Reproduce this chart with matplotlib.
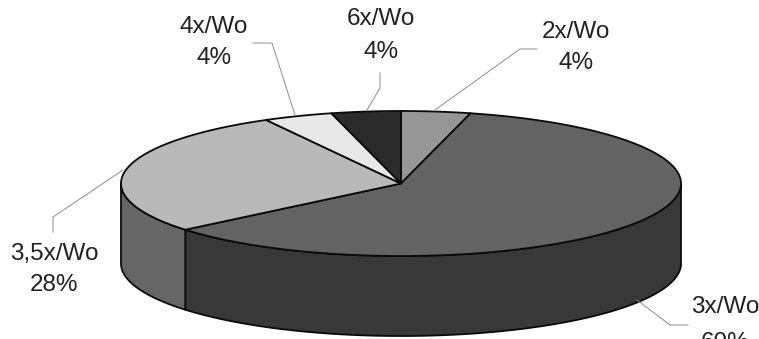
import numpy as np
import matplotlib
matplotlib.use('Agg')
import matplotlib.pyplot as plt

plt.rcParams['font.family'] = ['Liberation Sans', 'DejaVu Sans']

labels = ['2x/Wo', '3x/Wo', '3,5x/Wo', '4x/Wo', '6x/Wo']
values = [4, 60, 28, 4, 4]
top_colors = ['#969696', '#636363', '#b9b9b9', '#e8e8e8', '#2b2b2b']
side_colors = ['#6e6e6e', '#383838', '#666666', '#aaaaaa', '#1c1c1c']

# pie geometry in pixels
cx, cy = 401, 183.5
a, b = 280, 72.5
depth = 80

# label centres and leader lines, one per slice
label_pos = [(576, 32, 63), (725, 307, 343), (54, 254, 285), (214, 27, 58), (381, 19, 52)]
leaders = [
    [(537, 49), (520, 49), (435, 110)],
    [(637, 300), (670, 325), (688, 325)],
    [(53, 232), (53, 217), (123, 170)],
    [(253, 43), (272, 43), (295, 115)],
    [(380, 73), (380, 88), (367, 110)],
]


def rim(t0, t1):
    t = np.radians(np.linspace(t0, t1, 200))
    return cx + a * np.sin(t), cy - b * np.cos(t)


fig = plt.figure(figsize=(7.59, 3.39), dpi=100)
ax = fig.add_axes([0, 0, 1, 1])
ax.set_xlim(0, 759)
ax.set_ylim(339, 0)
ax.axis('off')

edges = np.concatenate([[0], np.cumsum(values)]) / np.sum(values) * 360

# side wall, only the front half can be seen
for i in range(len(values)):
    t0, t1 = max(edges[i], 90), min(edges[i + 1], 270)
    if t0 >= t1:
        continue
    x, y = rim(t0, t1)
    ax.fill(np.r_[x, x[::-1]], np.r_[y, y[::-1] + depth], color=side_colors[i],
            ec='#0a0a0a', lw=1.3, joinstyle='round')

# top face
for i in range(len(values)):
    x, y = rim(edges[i], edges[i + 1])
    ax.fill(np.r_[cx, x], np.r_[cy, y], color=top_colors[i],
            ec='#0a0a0a', lw=1.3, joinstyle='round')

for pts in leaders:
    ax.plot(*zip(*pts), color='#8c8c8c', lw=0.7)

for name, v, (x, y1, y2) in zip(labels, values, label_pos):
    ax.text(x, y1, name, ha='center', va='center', fontsize=17.5, color='#222222')
    ax.text(x, y2, f'{v}%', ha='center', va='center', fontsize=17.5, color='#222222')

fig.savefig('out.png', dpi=100)
